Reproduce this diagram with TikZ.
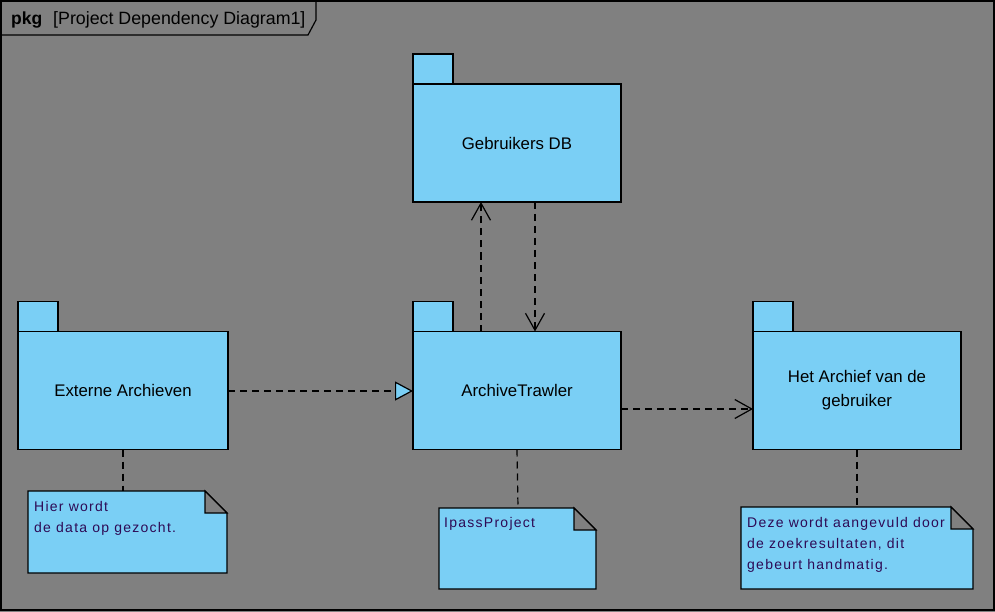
\documentclass[tikz,border=0pt]{standalone}
\usepackage{fontspec}
\setmainfont{Liberation Sans}
\newfontfamily\notefont[LetterSpace=9]{Liberation Sans}
\usetikzlibrary{arrows.meta}
\definecolor{bgray}{RGB}{128,128,128}
\definecolor{pkgblue}{RGB}{122,207,245}
\definecolor{notetext}{RGB}{45,10,85}
\tikzset{
  x=1pt,y=-1pt,
  pkgbody/.style={draw=black,fill=pkgblue,line width=1.2pt,rectangle,minimum width=208pt,minimum height=118pt,outer sep=0pt,inner sep=0pt,align=center,font=\fontsize{16.8}{24}\selectfont},
  pkgtab/.style={draw=black,fill=pkgblue,line width=1.2pt},
  dep/.style={draw=black,line width=1.2pt,dash pattern=on 7pt off 5pt},
  openarr/.style={-{Straight Barb[length=17pt,width=19pt,line width=1.2pt]}},
  notebox/.style={draw=black,fill=pkgblue,line width=1.2pt},
  notetxt/.style={anchor=base west,inner sep=0pt,text=notetext,font=\notefont\fontsize{14}{21}\selectfont,align=left}
}
\begin{document}
\begin{tikzpicture}
\useasboundingbox (0,0) rectangle (995,612);
\fill[bgray] (0,0) rectangle (995,612);
\draw[line width=1.2pt] (1,1) rectangle (994,610);
% header tab
\draw[line width=1.2pt] (1,35) -- (308,35) -- (316,20) -- (316,1);
\node[anchor=base west,inner sep=0pt,font=\fontsize{17.5}{20}\selectfont\bfseries] (hpkg) at (11,25) {pkg};
\node[anchor=base west,inner sep=0pt,font=\fontsize{17.8}{20}\selectfont] (htitle) at (53,25) {[Project Dependency Diagram1]};

% packages
\node[pkgbody] (db) at (517,143) {Gebruikers DB};
\draw[pkgtab] (db.north west) rectangle ++(40,-30);
\node[pkgbody] (at) at (517,390.5) {ArchiveTrawler};
\draw[pkgtab] (at.north west) rectangle ++(40,-30);
\node[pkgbody,minimum width=210pt] (ext) at (123,390.5) {Externe Archieven};
\draw[pkgtab] (ext.north west) rectangle ++(40,-30);
\node[pkgbody] (arch) at (857,390.5) {Het Archief van de\\gebruiker};
\draw[pkgtab] (arch.north west) rectangle ++(40,-30);

% notes
\draw[notebox] (28,491) -- (205,491) -- (227,513) -- (227,573) -- (28,573) -- cycle;
\draw[notebox,fill=bgray] (205,491) -- (205,513) -- (227,513) -- cycle;
\node[notetxt] (n1) at (34,532) {Hier wordt\\de data op gezocht.};
\coordinate (n1top) at (123,491);

\draw[notebox] (439,508) -- (574,508) -- (596,530) -- (596,589) -- (439,589) -- cycle;
\draw[notebox,fill=bgray] (574,508) -- (574,530) -- (596,530) -- cycle;
\node[notetxt] (n2) at (444,527) {IpassProject};
\coordinate (n2top) at (518,508);

\draw[notebox] (741,507) -- (951,507) -- (973,529) -- (973,589) -- (741,589) -- cycle;
\draw[notebox,fill=bgray] (951,507) -- (951,529) -- (973,529) -- cycle;
\node[notetxt] (n3) at (747,569) {Deze wordt aangevuld door\\de zoekresultaten, dit\\gebeurt handmatig.};
\coordinate (n3top) at (857,507);

% connectors
\draw[dep,-{Triangle[length=18pt,width=19pt,fill=pkgblue,line width=1.2pt]}] (ext.east |- 0,391) -- (at.west |- 0,391);
\draw[dep,openarr] (at.north -| 481,0) -- (db.south -| 481,0);
\draw[dep,openarr] (db.south -| 535,0) -- (at.north -| 535,0);
\draw[dep,openarr] (at.east |- 0,409) -- (arch.west |- 0,409);
\draw[dep] (ext.south) -- (n1top);
\draw[dep] (at.south) -- (n2top);
\draw[dep] (arch.south) -- (n3top);
\end{tikzpicture}
\end{document}
